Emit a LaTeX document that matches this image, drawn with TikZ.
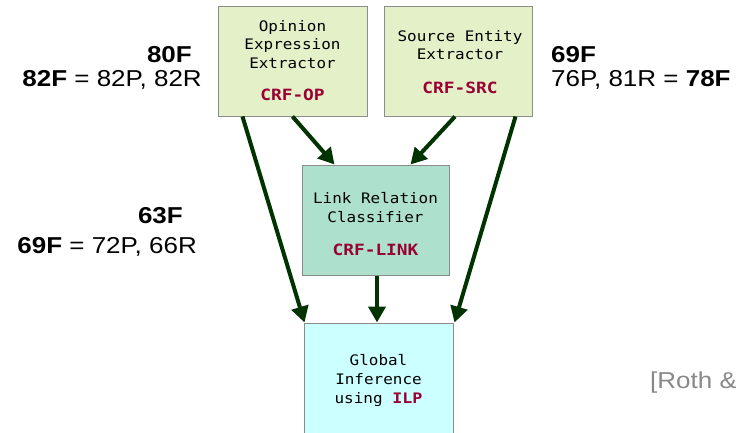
\documentclass[tikz,border=0pt]{standalone}
\usepackage{fontspec}
\setmainfont{Liberation Sans}[FakeStretch=1.13]
\newfontfamily\boxfont{DejaVu Sans Mono}[FakeStretch=1.1]
\newfontfamily\crffont{DejaVu Sans Mono}[FakeStretch=1.15]
\usetikzlibrary{arrows.meta}
\definecolor{opfill}{HTML}{E4F0C8}
\definecolor{linkfill}{HTML}{ADE1CD}
\definecolor{ilpfill}{HTML}{CCFFFF}
\definecolor{crfc}{HTML}{990033}
\definecolor{arrowc}{HTML}{003300}
\definecolor{boxline}{HTML}{8C8C8C}
\definecolor{refgray}{HTML}{888888}
\tikzset{
  box/.style={draw=boxline, line width=1pt, inner sep=0pt},
  boxtxt/.style={anchor=base, inner sep=0pt, font=\boxfont\fontsize{14.5}{17}\selectfont},
  crftxt/.style={anchor=base, inner sep=0pt, text=crfc, font=\crffont\bfseries\fontsize{15.5}{18}\selectfont},
  score/.style={inner sep=0pt, font=\fontsize{23}{27}\selectfont},
  flow/.style={draw=arrowc, line width=4pt, -{Triangle[length=16pt,width=17pt]}}
}
\begin{document}
\begin{tikzpicture}[x=1pt,y=-1pt]
\useasboundingbox (0,0) rectangle (736,432);
\clip (0,0) rectangle (736,432);
% boxes
\node[box, fill=opfill, minimum width=149pt, minimum height=110pt] (op) at (292.5,61) {};
\node[box, fill=opfill, minimum width=148pt, minimum height=110pt] (src) at (458,61) {};
\node[box, fill=linkfill, minimum width=147pt, minimum height=110pt] (link) at (375.5,220) {};
\node[box, fill=ilpfill, minimum width=149pt, minimum height=130pt] (ilp) at (378.5,388) {};
% box texts
\node[boxtxt] (op1) at (292.5,31) {Opinion};
\node[boxtxt] (op2) at (292.5,49) {Expression};
\node[boxtxt] (op3) at (292.5,68) {Extractor};
\node[crftxt] (op4) at (292.5,100) {CRF-OP};
\node[boxtxt] (src1) at (460,41) {Source Entity};
\node[boxtxt] (src2) at (460,59) {Extractor};
\node[crftxt] (src3) at (460,93) {CRF-SRC};
\node[boxtxt] (link1) at (375.5,203) {Link Relation};
\node[boxtxt] (link2) at (375.5,222) {Classifier};
\node[crftxt] (link3) at (375.5,255) {CRF-LINK};
\node[boxtxt] (ilp1) at (378.5,365) {Global};
\node[boxtxt] (ilp2) at (378.5,384) {Inference};
\node[boxtxt] (ilp3) at (378.5,403) {using \textcolor{crfc}{\crffont\bfseries ILP}};
% arrows
\draw[flow] ([xshift=25pt]op.south west) -- ([xshift=1pt]ilp.north west);
\draw[flow] (op.south) -- ([xshift=33pt]link.north west);
\draw[flow] ([xshift=-3pt]src.south) -- ([xshift=-39pt]link.north east);
\draw[flow] ([xshift=-17pt]src.south east) -- ([xshift=1pt]ilp.north east);
\draw[flow] ([xshift=1.5pt]link.south) -- ([xshift=-1.5pt]ilp.north);
% scores
\node[score, anchor=base east] (s1) at (192,62) {\textbf{80F}};
\node[score, anchor=base east] (s2) at (202,86) {\textbf{82F} = 82P, 82R};
\node[score, anchor=base west] (s3) at (551,62) {\textbf{69F}};
\node[score, anchor=base west] (s4) at (551,86) {76P, 81R = \textbf{78F}};
\node[score, anchor=base east] (s5) at (183,223) {\textbf{63F}};
\node[score, anchor=base east] (s6) at (197,253) {\textbf{69F} = 72P, 66R};
\node[score, anchor=base west, text=refgray] (ref) at (650,388) {[Roth \&};
\end{tikzpicture}
\end{document}
